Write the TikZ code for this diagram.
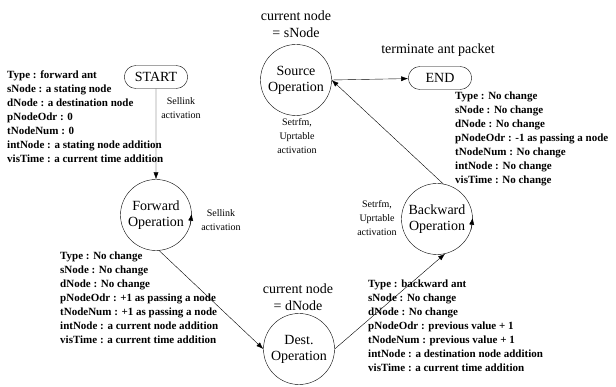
\documentclass[tikz,border=0pt]{standalone}
\usepackage{fontspec}
\setmainfont{Liberation Serif}
\usepackage{tikz}
\usetikzlibrary{arrows.meta,shapes.misc,positioning}
\tikzset{
    -{Latex[length=7pt,width=5pt]},line width=0.7pt,
    op/.style ={circle, draw, minimum size=71pt, inner sep=0pt, align=center, font=\fontsize{14}{16}\selectfont},
    term/.style = {rounded rectangle, draw, minimum width=70pt, minimum height=23pt, font=\fontsize{14}{16}\selectfont},
    heading/.style = {inner sep=0pt, align=center, font=\fontsize{14}{17}\selectfont},
    info/.style = {anchor=north west, inner sep=0pt, align=left, font=\fontsize{11}{14}\selectfont\bfseries},
    el/.style = {inner sep=0pt, align=center, font=\fontsize{10}{14}\selectfont}
}
\begin{document}
\begin{tikzpicture}[x=1pt,y=-1pt]
        \useasboundingbox (0,0) rectangle (616,387);

        \node[term] (start) at (156, 77) {START};
        \node[op] (src) at (296, 80) {Source\\Operation};
        \node[term] (end) at (440, 78) {END};
        \node[op] (fwd) at (156, 215) {Forward\\Operation};
        \node[op] (dst) at (299, 349) {Dest.\\Operation};
        \node[op] (bwd) at (437, 219) {Backward\\Operation};

        \node[heading] (srclbl) at (296, 24) {current node\\= sNode};
        \node[heading] (endlbl) at (438, 50) {terminate ant packet};
        \node[heading] (dstlbl) at (298, 297) {current node\\= dNode};

        \node[el] (sel1) at (181, 108) {Sellink\\activation};
        \node[el] (sel2) at (221, 220) {Sellink\\activation};
        \node[el] (set1) at (297, 136) {Setrfm,\\Uprtable\\activation};
        \node[el] (set2) at (377, 218) {Setrfm,\\Uprtable\\activation};

        \node[info] (fwdinfo) at (7, 71) {Type : forward ant\\sNode : a stating node\\dNode : a destination node\\pNodeOdr : 0\\tNodeNum : 0\\intNode : a stating node addition\\visTime : a current time addition};
        \node[info] (endinfo) at (455, 92) {Type : No change\\sNode : No change\\dNode : No change\\pNodeOdr : -1 as passing a node\\tNodeNum : No change\\intNode : No change\\visTime : No change};
        \node[info] (passinfo) at (60, 252) {Type : No change\\sNode : No change\\dNode : No change\\pNodeOdr : +1 as passing a node\\tNodeNum : +1 as passing a node\\intNode : a current node addition\\visTime : a current time addition};
        \node[info] (bwdinfo) at (368, 280) {Type : backward ant\\sNode : No change\\dNode : No change\\pNodeOdr : previous value + 1\\tNodeNum : previous value + 1\\intNode : a destination node addition\\visTime : a current time addition};

        \path (start) edge (fwd);
        \path (fwd.-85) edge (dst.west);
        \path (dst.east) edge (bwd.-77);
        \path (bwd.80) edge (src.east);
        \path (src.east) edge (end);
        \path (fwd.-18) edge (fwd.2);
        \path (bwd.-18) edge (bwd.2);
    \end{tikzpicture}
\end{document}
